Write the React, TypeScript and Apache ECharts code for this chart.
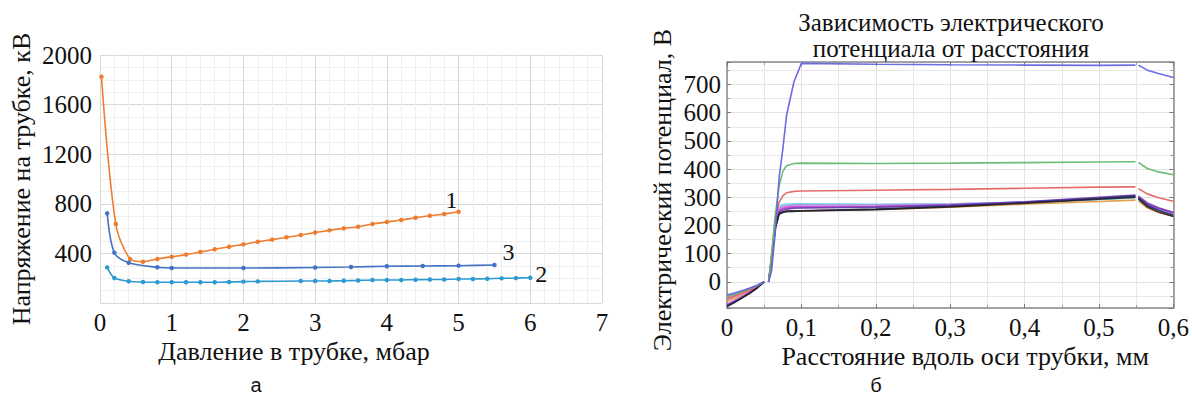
import React, { useEffect, useRef } from 'react';
import * as echarts from 'echarts';

// ---------- Left chart (а): voltage vs pressure ----------
const pressure1 = [0.02, 0.22, 0.42, 0.6, 0.8, 1.0, 1.2, 1.4, 1.6, 1.8, 2.0, 2.2, 2.4, 2.6, 2.8, 3.0, 3.2, 3.4, 3.6, 3.8, 4.0, 4.2, 4.4, 4.6, 4.8, 5.0];
const voltage1 = [1825, 637, 355, 333, 355, 373, 390, 411, 433, 454, 473, 494, 511, 530, 548, 568, 586, 602, 615, 637, 653, 669, 688, 704, 718, 736];

const pressure3 = [0.1, 0.2, 0.4, 0.8, 1.0, 2.0, 3.0, 3.5, 4.0, 4.5, 5.0, 5.5];
const voltage3 = [723, 406, 325, 288, 282, 282, 286, 290, 296, 298, 301, 306];

const pressure2 = [0.1, 0.2, 0.4, 0.6, 0.8, 1.0, 1.2, 1.4, 1.6, 1.8, 2.0, 2.2, 2.8, 3.0, 3.2, 3.4, 3.6, 3.8, 4.0, 4.2, 4.4, 4.6, 4.8, 5.0, 5.2, 5.4, 5.6, 5.8, 6.0];
const voltage2 = [287, 202, 175, 169, 167, 167, 167, 167, 167, 169, 172, 174, 177, 177, 178, 179, 182, 185, 185, 186, 188, 189, 190, 193, 194, 196, 199, 201, 204];

const leftXTicks = [0, 1, 2, 3, 4, 5, 6, 7];
const leftYTicks = [0, 400, 800, 1200, 1600, 2000];

// ---------- Right chart (б): potential vs distance ----------
const distance = [0, 0.01, 0.02, 0.03, 0.04, 0.05, 0.053, 0.056, 0.06, 0.065, 0.07, 0.075, 0.08, 0.09, 0.1, 0.2, 0.3, 0.4, 0.5, 0.549, 0.551, 0.553, 0.565, 0.58, 0.6];
const potBlue = [-47, -40, -32, -23, -13, 0, null, 0, 40, 180, 370, 470, 590, 710, 775, 772, 770, 769, 768, 769, null, 769, 751, 739, 725];
const potGreen = [-52, -44, -35, -25, -14, 0, null, 0, 100, 240, 340, 392, 412, 420, 421, 420, 421, 423, 425, 426, null, 424, 402, 390, 380];
const potRed = [-60, -50, -40, -29, -16, 0, null, 0, 95, 225, 282, 305, 316, 321, 322, 325, 328, 332, 336, 337, null, 330, 312, 298, 286];
const potCyan = [-50, -42, -34, -24, -13, 0, null, 0, 88, 205, 268, 274, 276, 277, 277, 275, 277, 283, 292, 298, null, 292, 270, 256, 242];
const potViolet = [-56, -47, -38, -27, -15, 0, null, 0, 86, 200, 262, 268, 271, 273, 273, 273, 276, 283, 295, 302, null, 298, 275, 260, 246];
const potPink = [-64, -54, -43, -31, -17, 0, null, 0, 85, 198, 258, 264, 267, 269, 269, 270, 274, 282, 294, 300, null, 296, 272, 257, 243];
const potTeal = [-62, -52, -41, -30, -16, 0, null, 0, 86, 200, 255, 260, 263, 264, 264, 266, 272, 281, 293, 298, null, 294, 270, 255, 240];
const potOrange = [-70, -59, -47, -34, -19, 0, null, 0, 82, 192, 243, 249, 251, 252, 252, 257, 265, 275, 285, 290, null, 286, 262, 246, 233];
const potMagenta = [-80, -67, -53, -38, -21, 0, null, 0, 84, 196, 252, 260, 264, 266, 266, 267, 272, 282, 297, 305, null, 300, 276, 260, 244];
const potPurple = [-84, -70, -56, -40, -22, 0, null, 0, 83, 194, 248, 254, 258, 261, 262, 265, 272, 284, 300, 308, null, 304, 280, 263, 246];
const potNavy = [-86, -72, -57, -41, -22, 0, null, 0, 82, 192, 242, 248, 251, 252, 252, 258, 268, 281, 296, 304, null, 298, 272, 254, 236];
const potBlack = [-88, -74, -58, -42, -23, 0, null, 0, 82, 190, 240, 246, 249, 250, 251, 256, 266, 279, 293, 300, null, 294, 266, 248, 232];

const rightXTicks = [0, 0.1, 0.2, 0.3, 0.4, 0.5, 0.6];
const rightYTicks = [0, 100, 200, 300, 400, 500, 600, 700];

const SERIF = 'Liberation Serif';
const SANS = 'Liberation Sans';

const pairs = (xs: number[], ys: (number | null)[]) => xs.map((x, i) => [x, ys[i]]);

export default function App() {
  const ref = useRef<HTMLDivElement>(null);

  useEffect(() => {
    if (!ref.current) return;
    const chart = echarts.init(ref.current, undefined, { renderer: 'svg' });

    const rightLines: [string, (number | null)[], string][] = [
      ['Teal', potTeal, 'rgba(70,140,165,0.85)'],
      ['Orange', potOrange, 'rgba(225,150,60,0.9)'],
      ['Pink', potPink, 'rgba(230,140,180,0.9)'],
      ['Cyan', potCyan, 'rgba(110,215,235,0.95)'],
      ['Violet', potViolet, 'rgba(175,145,230,0.9)'],
      ['Magenta', potMagenta, 'rgba(205,70,225,0.9)'],
      ['Purple', potPurple, 'rgba(110,60,175,0.9)'],
      ['Navy', potNavy, 'rgba(45,45,120,0.9)'],
      ['Black', potBlack, 'rgba(30,30,30,0.85)'],
      ['Red', potRed, 'rgba(230,100,100,0.95)'],
      ['Green', potGreen, 'rgba(100,185,115,0.95)'],
      ['Blue', potBlue, 'rgba(100,100,225,0.95)'],
    ];

    const leftSeries = [
      { name: '1', xs: pressure1, ys: voltage1, color: '#ED7D31', offset: [-21, -12] },
      { name: '3', xs: pressure3, ys: voltage3, color: '#4472C4', offset: [0, -13] },
      { name: '2', xs: pressure2, ys: voltage2, color: '#2E9AD0', offset: [-3, -4] },
    ];

    const tick = { fontFamily: SERIF, fontSize: 25, color: '#111', fontWeight: 'normal' };
    const nameText = { fontFamily: SERIF, fontSize: 26, color: '#111', fontWeight: 'normal' };

    const fmtComma = (v: number) => {
      const r = Math.round(v * 10) / 10;
      if (!rightXTicks.some((t) => Math.abs(t - r) < 1e-9) || Math.abs(v - r) > 1e-6) return '';
      return r === 0 ? '0' : r.toFixed(1).replace('.', ',');
    };

    chart.setOption({
      animation: false,
      backgroundColor: '#ffffff',
      textStyle: { fontFamily: SERIF },
      title: {
        text: 'Зависимость электрического\nпотенциала от расстояния',
        left: 951,
        top: 9,
        padding: 0,
        textAlign: 'center',
        textStyle: { ...nameText, fontSize: 25, lineHeight: 26 },
      },
      grid: [
        { left: 100, top: 55, width: 502, height: 248 },
        { left: 727, top: 62, width: 449, height: 246 },
      ],
      xAxis: [
        {
          gridIndex: 0,
          type: 'value',
          min: leftXTicks[0],
          max: leftXTicks[leftXTicks.length - 1],
          interval: 1,
          axisLine: { show: false },
          axisTick: { show: false },
          axisLabel: { ...tick, margin: 7, formatter: (v: number) => String(v) },
          splitLine: { show: true, lineStyle: { color: '#d9d9d9', width: 1 } },
          minorTick: { show: false, splitNumber: 5 },
          minorSplitLine: { show: true, lineStyle: { color: '#efefef', width: 1 } },
          name: 'Давление в трубке, мбар',
          nameLocation: 'middle',
          nameGap: 35,
          nameMoveOverlap: false,
          nameTextStyle: { ...nameText, padding: [0, 114, 0, 0] },
        },
        {
          gridIndex: 1,
          type: 'value',
          min: rightXTicks[0],
          max: rightXTicks[rightXTicks.length - 1],
          interval: 0.1,
          axisLine: { show: true, onZero: false, lineStyle: { color: '#888', width: 1.5 } },
          axisTick: { show: true, inside: true, length: 4, lineStyle: { color: '#777' } },
          minorTick: { show: true, splitNumber: 2, length: 3, lineStyle: { color: '#999' } },
          axisLabel: { ...tick, margin: 7, formatter: fmtComma },
          splitLine: { show: true, lineStyle: { color: '#e2e2e2', width: 1 } },
          minorSplitLine: { show: true, lineStyle: { color: '#e8e8e8', width: 1 } },
          name: 'Расстояние вдоль оси трубки, мм',
          nameLocation: 'middle',
          nameGap: 35,
          nameMoveOverlap: false,
          nameTextStyle: { ...nameText, padding: [0, 0, 0, 30] },
        },
        {
          gridIndex: 1,
          type: 'value',
          position: 'top',
          min: rightXTicks[0],
          max: rightXTicks[rightXTicks.length - 1],
          interval: 0.1,
          axisLine: { show: true, onZero: false, lineStyle: { color: '#888', width: 1.5 } },
          axisTick: { show: true, inside: true, length: 4, lineStyle: { color: '#777' } },
          minorTick: { show: true, splitNumber: 2, length: 3, lineStyle: { color: '#999' } },
          axisLabel: { show: false },
          splitLine: { show: false },
        },
      ],
      yAxis: [
        {
          gridIndex: 0,
          type: 'value',
          min: leftYTicks[0],
          max: leftYTicks[leftYTicks.length - 1],
          interval: 400,
          axisLine: { show: false },
          axisTick: { show: false },
          axisLabel: { ...tick, margin: 8, showMinLabel: false, formatter: (v: number) => (v === 0 ? '' : String(v)) },
          splitLine: { show: true, lineStyle: { color: '#d9d9d9', width: 1 } },
          minorTick: { show: false, splitNumber: 4 },
          minorSplitLine: { show: true, lineStyle: { color: '#efefef', width: 1 } },
          name: 'Напряжение на трубке, кВ',
          nameLocation: 'middle',
          nameGap: 66,
          nameMoveOverlap: false,
          nameTextStyle: { ...nameText },
        },
        {
          gridIndex: 1,
          type: 'value',
          min: -93,
          max: 780,
          splitNumber: 8,
          axisLine: { show: true, onZero: false, lineStyle: { color: '#888', width: 1.5 } },
          axisTick: { show: true, inside: true, length: 4, lineStyle: { color: '#777' } },
          minorTick: { show: true, splitNumber: 2, length: 3, lineStyle: { color: '#999' } },
          axisLabel: {
            ...tick,
            margin: 6,
            formatter: (v: number) => (rightYTicks.some((t) => Math.abs(t - v) < 1e-6) ? String(Math.round(v)) : ''),
          },
          splitLine: { show: true, lineStyle: { color: '#e2e2e2', width: 1 } },
          minorSplitLine: { show: true, lineStyle: { color: '#e8e8e8', width: 1 } },
          name: 'Электрический потенциал, В',
          nameLocation: 'middle',
          nameGap: 52,
          nameMoveOverlap: false,
          nameTextStyle: { ...nameText, padding: [0, 10, 0, 0] },
        },
        {
          gridIndex: 1,
          type: 'value',
          position: 'right',
          min: -93,
          max: 780,
          splitNumber: 8,
          axisLine: { show: true, onZero: false, lineStyle: { color: '#888', width: 1.5 } },
          axisTick: { show: true, inside: true, length: 4, lineStyle: { color: '#777' } },
          minorTick: { show: true, splitNumber: 2, length: 3, lineStyle: { color: '#999' } },
          axisLabel: { show: false },
          splitLine: { show: false },
        },
      ],
      series: [
        ...leftSeries.map((s) => ({
          name: s.name,
          type: 'line',
          xAxisIndex: 0,
          yAxisIndex: 0,
          data: pairs(s.xs, s.ys),
          smooth: 0.3,
          symbol: 'circle',
          symbolSize: 4.5,
          lineStyle: { color: s.color, width: 1.6 },
          itemStyle: { color: s.color },
          endLabel: {
            show: true,
            formatter: s.name,
            fontFamily: SERIF,
            fontSize: 24,
            color: '#111',
            offset: s.offset,
          },
          z: 3,
        })),
        ...rightLines.map(([name, vals, color]) => ({
          name,
          type: 'line',
          xAxisIndex: 1,
          yAxisIndex: 1,
          data: pairs(distance, vals),
          connectNulls: false,
          showSymbol: false,
          symbol: 'none',
          smooth: false,
          lineStyle: { color, width: 1.6 },
          itemStyle: { color },
          z: 2,
        })),
      ],
      graphic: [
        {
          type: 'text',
          x: 256,
          y: 385,
          style: { text: 'а', fontFamily: SANS, fontSize: 20, fill: '#111', align: 'center', verticalAlign: 'middle' },
        },
        {
          type: 'text',
          x: 876,
          y: 385,
          style: { text: 'б', fontFamily: SANS, fontSize: 20, fill: '#111', align: 'center', verticalAlign: 'middle' },
        },
      ],
    });

    return () => chart.dispose();
  }, []);

  return <div ref={ref} style={{ position: 'fixed', left: 0, top: 0, width: 1192, height: 412 }} />;
}
